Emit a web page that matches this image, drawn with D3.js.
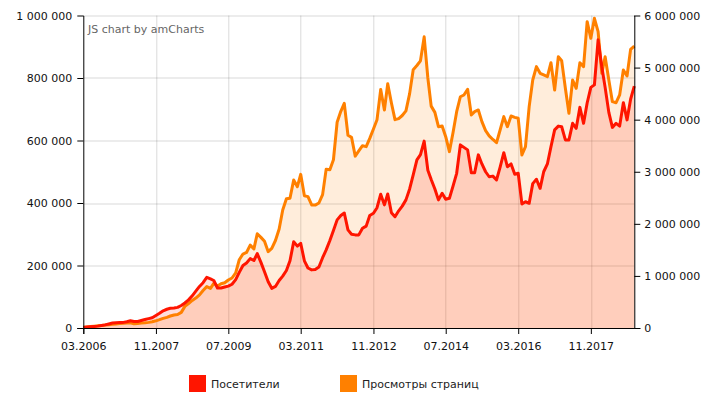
<!DOCTYPE html>
<html>
<head>
<meta charset="utf-8">
<script src="https://cdn.jsdelivr.net/npm/d3@7/dist/d3.min.js"></script>
<style>
    body { margin: 0; background: #fff; }
    text { font-family: "DejaVu Sans", Verdana, sans-serif; }
</style>
</head>
<body>
<div id="vis"></div>
<script>
// first and last month of the series (one value per month)
var firstMonth = new Date(2006, 2, 1);
var lastMonth = new Date(2018, 10, 1);

// visitors per month (left axis)
var visitors = [
    2000, 3000, 4000, 5000, 6000, 8000, 10000, 13000, 16000, 17000,
    18000, 18000, 20000, 23000, 21000, 21000, 24000, 27000, 30000, 33000,
    40000, 47000, 55000, 60000, 63000, 64000, 66000, 72000, 80000, 90000,
    103000, 118000, 133000, 145000, 162000, 157000, 152000, 128000, 128000, 131000,
    134000, 140000, 155000, 178000, 200000, 208000, 222000, 216000, 238000, 210000,
    180000, 148000, 127000, 133000, 152000, 166000, 184000, 215000, 276000, 262000,
    271000, 215000, 192000, 186000, 187000, 195000, 225000, 250000, 280000, 312000,
    346000, 360000, 368000, 314000, 300000, 298000, 298000, 319000, 326000, 360000,
    367000, 385000, 428000, 394000, 429000, 369000, 356000, 375000, 390000, 410000,
    445000, 490000, 538000, 555000, 598000, 505000, 475000, 445000, 410000, 431000,
    412000, 415000, 455000, 495000, 586000, 578000, 570000, 497000, 497000, 554000,
    525000, 500000, 484000, 486000, 474000, 515000, 561000, 516000, 525000, 492000,
    495000, 397000, 404000, 399000, 462000, 476000, 447000, 500000, 525000, 580000,
    634000, 646000, 644000, 602000, 602000, 655000, 639000, 706000, 655000, 720000,
    770000, 778000, 922000, 836000, 770000, 690000, 642000, 655000, 646000, 721000,
    666000, 732000, 774000
];

// page views per month (right axis)
var pageViews = [
    13000, 20000, 28000, 35000, 42000, 50000, 58000, 64000, 72000, 77000,
    85000, 92000, 98000, 100000, 80000, 88000, 95000, 100000, 108000, 120000,
    138000, 160000, 185000, 205000, 230000, 250000, 258000, 300000, 415000, 470000,
    530000, 575000, 635000, 720000, 794000, 760000, 858000, 806000, 850000, 870000,
    922000, 960000, 1060000, 1310000, 1420000, 1450000, 1590000, 1520000, 1810000, 1740000,
    1665000, 1466000, 1530000, 1680000, 1900000, 2266000, 2480000, 2490000, 2840000, 2714000,
    2950000, 2540000, 2522000, 2362000, 2360000, 2400000, 2560000, 3050000, 3040000, 3230000,
    3950000, 4160000, 4314000, 3700000, 3661000, 3300000, 3400000, 3500000, 3482000, 3640000,
    3820000, 4000000, 4580000, 4186000, 4690000, 4320000, 4000000, 4020000, 4080000, 4170000,
    4500000, 4960000, 5040000, 5130000, 5590000, 4800000, 4260000, 4140000, 3865000, 3878000,
    3673000, 3386000, 3760000, 4154000, 4440000, 4474000, 4583000, 4090000, 4154000, 4186000,
    3962000, 3790000, 3690000, 3620000, 3558000, 3802000, 4058000, 3865000, 4070000, 4045000,
    4026000, 3322000, 3482000, 4250000, 4762000, 5018000, 4890000, 4858000, 4826000, 5094000,
    4570000, 5209000, 5130000, 4602000, 4122000, 4762000, 4602000, 5094000, 5018000, 5881000,
    5562000, 5946000, 5690000, 4890000, 5209000, 4762000, 4346000, 4326000, 4474000, 4954000,
    4838000, 5350000, 5414000
];

// axis ticks
var xTickLabels = ['03.2006', '11.2007', '07.2009', '03.2011', '11.2012', '07.2014', '03.2016', '11.2017'];
var leftTicks = [0, 200000, 400000, 600000, 800000, 1000000];
var rightTicks = [0, 1000000, 2000000, 3000000, 4000000, 5000000, 6000000];

var seriesNames = ['Посетители', 'Просмотры страниц'];
var seriesColors = ['#ff1500', '#ff8000'];

function parseMonth(s)
{
    var p = s.split('.');
    return new Date(+p[1], +p[0] - 1, 1);
}

function formatNum(v)
{
    return d3.format(',')(v).replace(/,/g, ' ');
}

window.onload = function()
{
    var width = 720, height = 398;
    var margin = { left: 83.3, top: 15.5, right: 720 - 634.3, bottom: 398 - 328 };
    var innerW = width - margin.left - margin.right;
    var innerH = height - margin.top - margin.bottom;

    var months = d3.timeMonth.range(firstMonth, d3.timeMonth.offset(lastMonth, 1));
    var rows = months.map(function(m, i) { return { date: m, v: visitors[i], p: pageViews[i] }; });

    var x = d3.scaleTime().domain([firstMonth, lastMonth]).range([0, innerW]);
    var yL = d3.scaleLinear().domain([0, 1000000]).range([innerH, 0]);
    var yR = d3.scaleLinear().domain([0, 6000000]).range([innerH, 0]);

    var svg = d3.select('#vis').append('svg')
        .attr('width', width)
        .attr('height', height);

    var g = svg.append('g')
        .attr('transform', 'translate(' + margin.left + ',' + margin.top + ')');

    var tickDates = xTickLabels.map(parseMonth);

    // grid
    g.append('g').selectAll('line.h')
        .data(leftTicks.slice(1))
        .enter().append('line')
            .attr('x1', 0).attr('x2', innerW)
            .attr('y1', function(d) { return Math.round(yL(d)) + 0.5; })
            .attr('y2', function(d) { return Math.round(yL(d)) + 0.5; })
            .attr('stroke', '#000').attr('stroke-opacity', 0.15);

    g.append('g').selectAll('line.v')
        .data(tickDates.slice(1))
        .enter().append('line')
            .attr('x1', function(d) { return Math.round(x(d)) + 0.5; })
            .attr('x2', function(d) { return Math.round(x(d)) + 0.5; })
            .attr('y1', 0).attr('y2', innerH)
            .attr('stroke', '#000').attr('stroke-opacity', 0.15);

    // areas and lines
    var areaP = d3.area().x(function(d) { return x(d.date); }).y0(innerH).y1(function(d) { return yR(d.p); });
    var areaV = d3.area().x(function(d) { return x(d.date); }).y0(innerH).y1(function(d) { return yL(d.v); });
    var lineP = d3.line().x(function(d) { return x(d.date); }).y(function(d) { return yR(d.p); });
    var lineV = d3.line().x(function(d) { return x(d.date); }).y(function(d) { return yL(d.v); });

    g.append('path').datum(rows).attr('d', areaP)
        .attr('fill', seriesColors[1]).attr('fill-opacity', 0.14);
    g.append('path').datum(rows).attr('d', areaV)
        .attr('fill', seriesColors[0]).attr('fill-opacity', 0.14);

    g.append('path').datum(rows).attr('d', lineP)
        .attr('fill', 'none').attr('stroke', seriesColors[1])
        .attr('stroke-width', 3).attr('stroke-linejoin', 'round');
    g.append('path').datum(rows).attr('d', lineV)
        .attr('fill', 'none').attr('stroke', seriesColors[0])
        .attr('stroke-width', 3).attr('stroke-linejoin', 'round');

    // axes
    var axisL = d3.axisLeft(yL).tickValues(leftTicks).tickSize(6).tickPadding(5).tickFormat(formatNum);
    var axisR = d3.axisRight(yR).tickValues(rightTicks).tickSize(6).tickPadding(4).tickFormat(formatNum);
    var axisB = d3.axisBottom(x).tickValues(tickDates).tickSize(6).tickPadding(8)
        .tickFormat(function(d, i) { return xTickLabels[i]; });

    function styleAxis(sel)
    {
        sel.selectAll('text').attr('font-size', 11).attr('fill', '#111')
            .attr('font-family', '"DejaVu Sans", Verdana, sans-serif');
        sel.selectAll('line').attr('stroke', '#000');
        sel.select('.domain').attr('stroke', '#000');
    }

    g.append('g').call(axisL).call(styleAxis);
    g.append('g').attr('transform', 'translate(' + innerW + ',0)').call(axisR).call(styleAxis);
    g.append('g').attr('transform', 'translate(0,' + innerH + ')').call(axisB).call(styleAxis);

    // plain axis lines, no end caps
    g.selectAll('.domain').attr('d', function() { return d3.select(this).attr('d').replace(/V6|V-6|H-6|H6/g, function(s) { return s.charAt(0) + '0'; }); });

    // credit
    svg.append('text')
        .attr('x', 88).attr('y', 33)
        .attr('font-size', 11).attr('fill', '#666')
        .text('JS chart by amCharts');

    // legend
    var legend = svg.append('g').selectAll('g')
        .data(seriesNames)
        .enter().append('g')
            .attr('transform', function(d, i) { return 'translate(' + (189 + i * 151) + ',375)'; });

    legend.append('rect')
        .attr('width', 17).attr('height', 17)
        .attr('fill', function(d, i) { return seriesColors[i]; });

    legend.append('text')
        .attr('x', 22).attr('y', 12.5)
        .attr('font-size', 11).attr('fill', '#222')
        .text(function(d) { return d; });
};
</script>
</body>
</html>
